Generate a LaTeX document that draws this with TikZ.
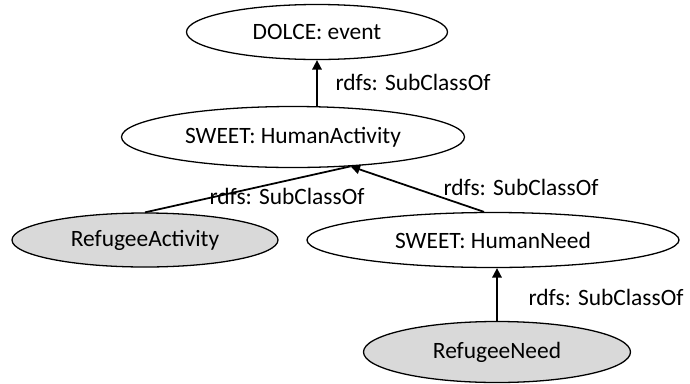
\documentclass[tikz,border=0pt]{standalone}
\usepackage{fontspec}
\setmainfont{Carlito}
\usetikzlibrary{shapes.geometric,arrows.meta}

\begin{document}
\begin{tikzpicture}[x=0.03cm, y=-0.03cm,
    every node/.style={font=\fontsize{20}{24}\selectfont},
    concept/.style={ellipse, draw, line width=1.1pt, inner sep=0pt},
    local/.style={concept, fill=gray!30},
    subclass/.style={line width=1.5pt, -{Triangle[length=8pt,width=8pt]}},
    rel/.style={inner sep=0pt}]
  \useasboundingbox (0,0) rectangle (690,383);
  \node[concept, minimum width=261*0.03cm, minimum height=55*0.03cm] (event) at (317,32) {DOLCE: event};
  \node[concept, minimum width=343*0.03cm, minimum height=61*0.03cm] (act) at (293,137) {SWEET: HumanActivity};
  \node[local, minimum width=266*0.03cm, minimum height=54*0.03cm] (ract) at (145,240) {RefugeeActivity};
  \node[concept, minimum width=372*0.03cm, minimum height=55*0.03cm] (need) at (493,240) {SWEET: HumanNeed};
  \node[local, minimum width=267*0.03cm, minimum height=61*0.03cm] (rneed) at (497,352) {RefugeeNeed};
  \draw[subclass] (act.north -| event.south) -- (event.south);
  \draw[line width=1.5pt] (ract.north) -- (act.-27);
  \draw[subclass] (need.north) ++(-9,0) -- (act.-27);
  \draw[subclass] (rneed.north) -- (rneed.north |- need.south);
  \node[rel] (l1) at (413,82) {rdfs: SubClassOf};
  \node[rel] (l2) at (287,196) {rdfs: SubClassOf};
  \node[rel] (l3) at (521,187) {rdfs: SubClassOf};
  \node[rel] (l4) at (606,297) {rdfs: SubClassOf};
\end{tikzpicture}
\end{document}
